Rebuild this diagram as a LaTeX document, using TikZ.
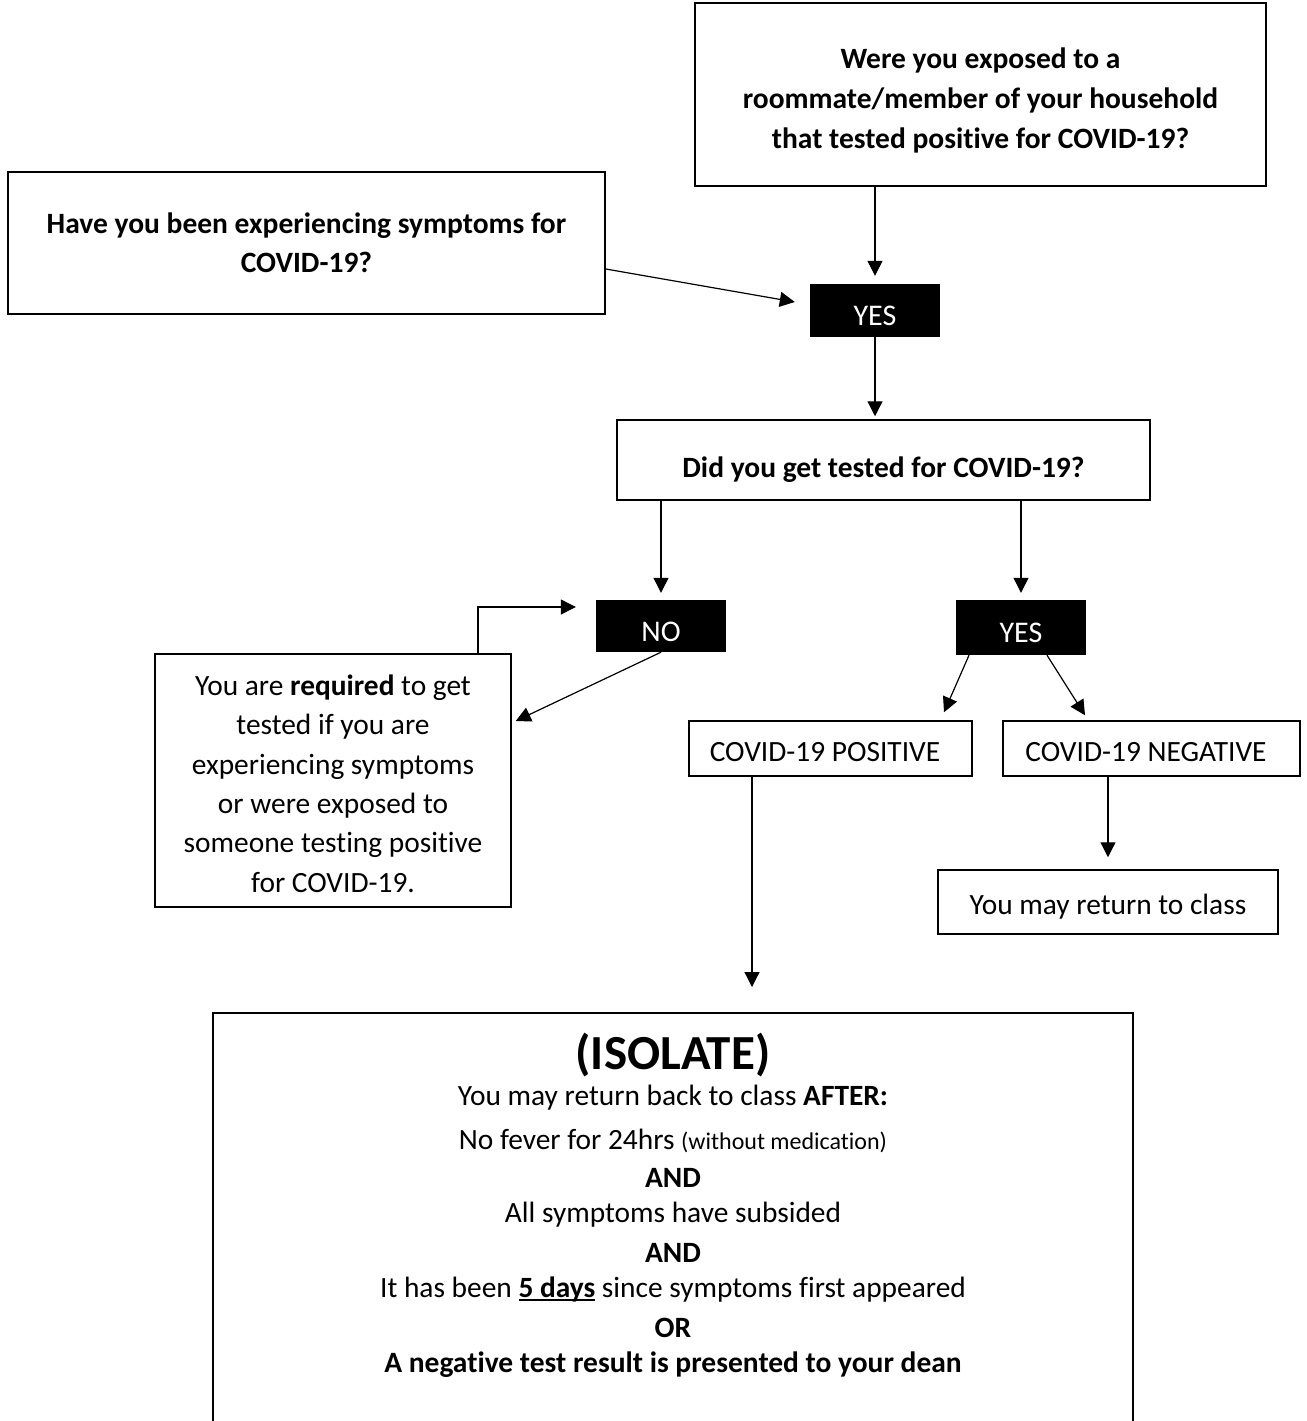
\documentclass[tikz,border=0pt]{standalone}
\usepackage{fontspec}
\setmainfont[Ligatures=NoCommon]{Carlito}
\usetikzlibrary{arrows.meta}
\newcommand\myul[1]{\setbox0\hbox{#1}\rlap{\rule[-3.5pt]{\wd0}{2.2pt}}\box0\relax}
\newcommand\mystrut[1]{\rule{0pt}{#1}}
\begin{document}
\begin{tikzpicture}[x=1pt,y=-1pt,
  box/.style={draw,line width=1.5pt,inner sep=0pt,align=center,font=\fontsize{29.4}{40}\selectfont},
  lift/.style={execute at begin node={\rule{0pt}{#1}}},
  blk/.style={fill=black,text=white,inner sep=0pt,minimum width=130pt,font=\fontsize{30}{35}\selectfont,lift=30.5pt},
  arr/.style={line width=1.2pt,-{Triangle[length=15pt,width=15pt]}},
  ln/.style={inner sep=0pt,font=\fontsize{29.4}{35}\selectfont},
  lnb/.style={inner sep=0pt,font=\bfseries\fontsize{29.5}{35}\selectfont}]
\useasboundingbox (0,0) rectangle (1306,1421);
\clip (0,0) rectangle (1306,1421);

% boxes
\node[box,minimum width=571pt,minimum height=183pt,font=\bfseries\fontsize{29.5}{40}\selectfont] (top) at (980.5,94.5)
  {\mystrut{33pt}Were you exposed to a\\roommate/member of your household\\that tested positive for COVID-19?};
\node[box,minimum width=597pt,minimum height=142pt,font=\bfseries\fontsize{29.5}{39}\selectfont] (left) at (306.5,243)
  {Have you been experiencing symptoms for\\COVID-19?};
\node[blk,minimum height=53pt] (yes1) at (875,310.5) {YES};
\node[box,minimum width=533pt,minimum height=80pt,font=\bfseries\fontsize{29.5}{35}\selectfont,lift=40pt] (test) at (883.5,460)
  {Did you get tested for COVID-19?};
\node[blk,minimum height=52pt] (no) at (661,626) {NO};
\node[blk,minimum height=55pt] (yes2) at (1021,627.5) {YES};
\node[box,minimum width=356pt,minimum height=253pt,font=\fontsize{29.4}{39.4}\selectfont] (req) at (333,780.5)
  {\mystrut{27pt}You are \textbf{required} to get\\tested if you are\\experiencing symptoms\\or were exposed to\\someone testing positive\\for COVID-19.};
\node[box,minimum width=283pt,minimum height=55pt,lift=27pt] (pos) at (830.5,748.5) {COVID-19 POSITIVE\hspace*{11pt}};
\node[box,minimum width=297pt,minimum height=55pt,lift=27pt] (neg) at (1151.5,748.5) {COVID-19 NEGATIVE\hspace*{11pt}};
\node[box,minimum width=340pt,minimum height=64pt,lift=29.5pt] (ret) at (1108,902) {You may return to class};
\node[draw,line width=1.5pt,inner sep=0pt,minimum width=920pt,minimum height=460pt,anchor=north] (iso) at (673,1012) {};

% bottom box text
\node[inner sep=0pt,font=\bfseries\fontsize{49}{55}\selectfont] (l0) at (673,1055) {(ISOLATE)};
\node[ln] (l1) at (673,1098) {You may return back to class \textbf{AFTER:}};
\node[ln] (l2) at (673,1141) {No fever for 24hrs {\fontsize{24}{29}\selectfont(without medication)}};
\node[lnb] (l3) at (673,1178) {AND};
\node[ln] (l4) at (673,1215) {All symptoms have subsided};
\node[lnb] (l5) at (673,1253) {AND};
\node[ln] (l6) at (673,1290) {It has been \myul{\textbf{5 days}} since symptoms first appeared};
\node[lnb] (l7) at (673,1328) {OR};
\node[lnb] (l8) at (673,1365) {A negative test result is presented to your dean};

% connectors
\draw[arr,shorten >=8pt] (yes1 |- top.south) -- (yes1.north);
\draw[arr] ([yshift=-26pt]left.east) -- ([xshift=-15pt,yshift=8.5pt]yes1.west);
\draw[arr,shorten >=3pt] (yes1.south) -- (yes1 |- test.north);
\draw[arr,shorten >=7pt] (no |- test.south) -- (no.north);
\draw[arr,shorten >=7pt] (yes2 |- test.south) -- (yes2.north);
\draw[arr] ([xshift=145pt]req.north) |- ([xshift=-20pt,yshift=19pt]no.west);
\draw[arr] (no.south) -- ([xshift=4pt,yshift=59.5pt]req.east);
\draw[arr] ([xshift=-52pt]yes2.south) -- ([xshift=113.5pt,yshift=8pt]pos.north);
\draw[arr] ([xshift=26pt]yes2.south) -- ([xshift=-66.5pt,yshift=5pt]neg.north);
\draw[arr,shorten >=12pt] (ret |- neg.south) -- (ret.north);
\draw[arr,shorten >=25pt] ([xshift=-78.5pt]pos.south) -- ([xshift=-78.5pt]pos.south |- iso.north);
\end{tikzpicture}
\end{document}
